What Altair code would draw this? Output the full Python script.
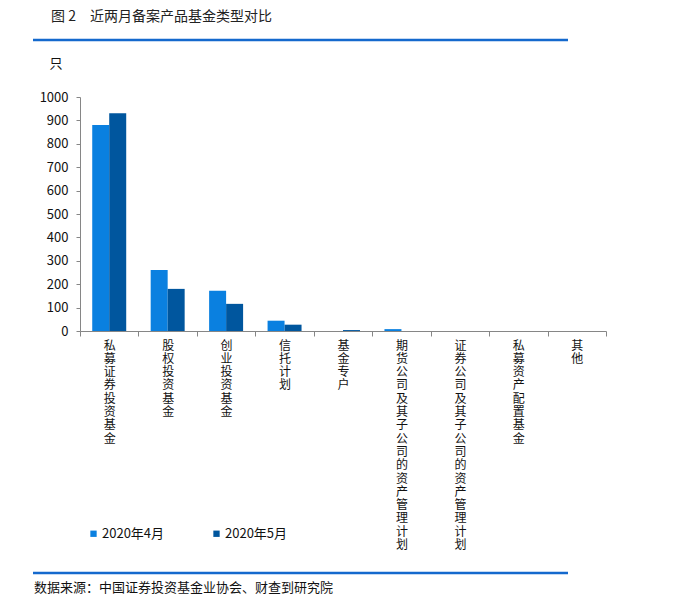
import altair as alt
import pandas as pd

categories = ["私募证券投资基金", "股权投资基金", "创业投资基金", "信托计划", "基金专户",
              "期货公司及其子公司的资产管理计划", "证券公司及其子公司的资产管理计划",
              "私募资产配置基金", "其他"]
months = ["2020年4月", "2020年5月"]
april = [880, 261, 172, 44, 0, 8, 0, 0, 0]
may = [931, 180, 116, 27, 4, 0, 0, 0, 0]
y_ticks = [0, 100, 200, 300, 400, 500, 600, 700, 800, 900, 1000]
colors = ["#0a80e0", "#00569e"]

title_text = "图 2　近两月备案产品基金类型对比"
source_text = "数据来源：中国证券投资基金业协会、财查到研究院"
unit_text = "只"

rows = []
for c, a, m in zip(categories, april, may):
    rows.append({"类型": c, "月份": months[0], "数量": a})
    rows.append({"类型": c, "月份": months[1], "数量": m})
df = pd.DataFrame(rows)

FONT = "Noto Sans CJK SC"
GRAY = "#868686"

bars = alt.Chart(df).mark_bar().encode(
    x=alt.X("类型:N", sort=categories,
            scale=alt.Scale(paddingInner=0, paddingOuter=0),
            axis=alt.Axis(title=None, labelAngle=0, tickBand="extent",
                          labelExpr="split(datum.label, '')",
                          labelLineHeight=13.3, labelBaseline="top",
                          labelAlign="center", labelPadding=4,
                          labelOverlap=False, labelFontSize=12,
                          labelColor="#111111", labelFont=FONT,
                          domainColor=GRAY, tickColor=GRAY, tickSize=5)),
    xOffset=alt.XOffset("月份:N", sort=months,
                        scale=alt.Scale(paddingInner=0, paddingOuter=0.72)),
    y=alt.Y("数量:Q", scale=alt.Scale(domain=[0, 1000], nice=False),
            axis=alt.Axis(values=y_ticks, format="d", grid=False, title=unit_text,
                          titleAngle=0, titleX=-31, titleY=-34,
                          titleAlign="left", titleBaseline="middle",
                          titleFont=FONT, titleFontSize=13,
                          titleFontWeight="normal", titleColor="#111111",
                          labelFontSize=13, labelFont=FONT,
                          labelColor="#111111", labelPadding=8,
                          domainColor=GRAY, tickColor=GRAY, tickSize=4)),
    color=alt.Color("月份:N", sort=months,
                    scale=alt.Scale(domain=months, range=colors),
                    legend=alt.Legend(title=None, orient="none",
                                      direction="horizontal",
                                      legendX=7, legendY=430,
                                      symbolType="square", symbolSize=40,
                                      symbolStrokeWidth=0,
                                      labelFontSize=13, labelFont=FONT,
                                      labelColor="#111111", labelOffset=2,
                                      columnPadding=45, padding=0)),
)

one = alt.Data(values=[{"k": 1}])

title = alt.Chart(one).mark_text(
    align="left", baseline="middle", fontSize=14, font=FONT, color="#222222"
).encode(x=alt.value(-29), y=alt.value(-80), text=alt.value(title_text))

top_line = alt.Chart(one).mark_rule(color="#1469cd", strokeWidth=2.5).encode(
    x=alt.value(-47), x2=alt.value(488), y=alt.value(-57))

bottom_line = alt.Chart(one).mark_rule(color="#1469cd", strokeWidth=2.5).encode(
    x=alt.value(-47), x2=alt.value(488), y=alt.value(476))

source = alt.Chart(one).mark_text(
    align="left", baseline="middle", fontSize=13, font=FONT, color="#111111"
).encode(x=alt.value(-46), y=alt.value(491), text=alt.value(source_text))

chart = alt.layer(bars, title, top_line, bottom_line, source).properties(
    width=526, height=234,
    background="white",
    autosize=alt.AutoSizeParams(type="none"),
    padding={"left": 80, "top": 97, "right": 85, "bottom": 276},
).configure_view(stroke=None, strokeWidth=0)

chart.save("out.html", embed_options={"renderer": "svg", "actions": False})
